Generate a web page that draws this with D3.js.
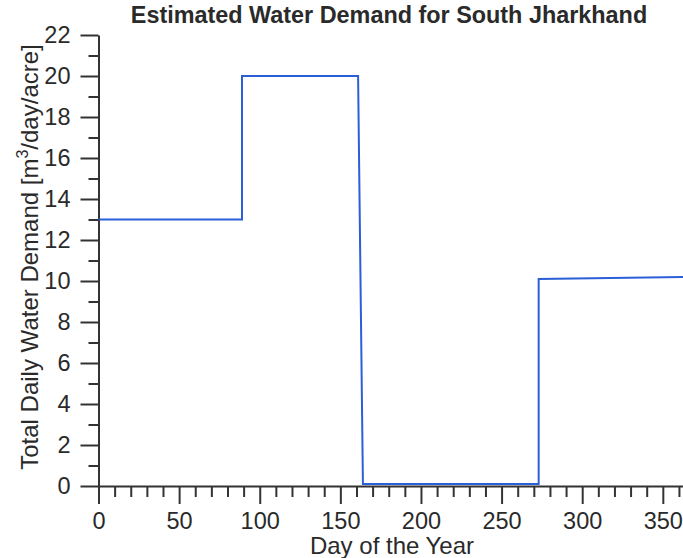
<!DOCTYPE html>
<html>
<head>
<meta charset="utf-8">
<script src="https://cdn.jsdelivr.net/npm/d3@7"></script>
<style>
  html, body { margin: 0; padding: 0; background: #fff; }
  svg { display: block; }
  text { font-family: "Liberation Sans", Arial, Helvetica, sans-serif; fill: #2a2a2a; }
</style>
</head>
<body>
<svg id="chart" width="683" height="558"></svg>
<script>
// Step profile of the estimated daily demand over the year
const days   = [0, 89, 89, 161, 164, 273, 273, 365];
const demand = [13, 13, 20, 20, 0.1, 0.1, 10.1, 10.2];

const xMajorTicks = [0, 50, 100, 150, 200, 250, 300, 350];
const yMajorTicks = [0, 2, 4, 6, 8, 10, 12, 14, 16, 18, 20, 22];

const svg = d3.select("#chart");

const x = d3.scaleLinear().domain([0, 365]).range([98.5, 687]);
const y = d3.scaleLinear().domain([0, 22]).range([486, 35]);

const axisColor = "#333";
const labelSize = 23.5;

// minor ticks every 10 days / every 1 unit
const xMinor = d3.range(0, 366, 10).filter(d => d % 50 !== 0);
const yMinor = d3.range(1, 22, 2);

const gx = svg.append("g").attr("transform", `translate(0,${y(0)})`);
gx.call(d3.axisBottom(x).tickValues(xMinor).tickSize(11).tickSizeOuter(0).tickFormat(""));
gx.select(".domain").remove();
gx.selectAll(".tick line").attr("stroke", axisColor).attr("stroke-width", 2);
const gxMajor = svg.append("g").attr("transform", `translate(0,${y(0)})`);
gxMajor.call(d3.axisBottom(x).tickValues(xMajorTicks).tickSize(18).tickSizeOuter(0).tickPadding(8));
gxMajor.select(".domain").attr("stroke", axisColor).attr("stroke-width", 2);
gxMajor.selectAll(".tick line").attr("stroke", axisColor).attr("stroke-width", 2);
gxMajor.selectAll(".tick text").attr("font-size", labelSize).attr("fill", "#2a2a2a").attr("dy", "0.71em");

const gy = svg.append("g").attr("transform", `translate(${x(0)},0)`);
gy.call(d3.axisLeft(y).tickValues(yMinor).tickSize(10).tickSizeOuter(0).tickFormat(""));
gy.select(".domain").remove();
gy.selectAll(".tick line").attr("stroke", axisColor).attr("stroke-width", 2);
const gyMajor = svg.append("g").attr("transform", `translate(${x(0)},0)`);
gyMajor.call(d3.axisLeft(y).tickValues(yMajorTicks).tickSize(18).tickSizeOuter(0).tickPadding(10));
gyMajor.select(".domain").attr("stroke", axisColor).attr("stroke-width", 2);
gyMajor.selectAll(".tick line").attr("stroke", axisColor).attr("stroke-width", 2);
gyMajor.selectAll(".tick text").attr("font-size", labelSize).attr("fill", "#2a2a2a");

// demand line
const pts = days.map((d, i) => [d, demand[i]]);
svg.append("path")
  .datum(pts)
  .attr("fill", "none")
  .attr("stroke", "#2b5fd8")
  .attr("stroke-width", 2)
  .attr("d", d3.line().x(d => x(d[0])).y(d => y(d[1])));

// title
svg.append("text")
  .attr("x", 389).attr("y", 23)
  .attr("text-anchor", "middle")
  .attr("font-size", 23.4).attr("font-weight", "bold")
  .attr("fill", "#1e1e1e")
  .text("Estimated Water Demand for South Jharkhand");

// axis titles
svg.append("text")
  .attr("x", 392).attr("y", 554)
  .attr("text-anchor", "middle")
  .attr("font-size", 24)
  .text("Day of the Year");

const yl = svg.append("text")
  .attr("transform", "translate(38,257) rotate(-90)")
  .attr("text-anchor", "middle")
  .attr("font-size", 24);
yl.append("tspan").text("Total Daily Water Demand [m");
yl.append("tspan").attr("dy", -10).attr("font-size", 16).text("3");
yl.append("tspan").attr("dy", 10).text("/day/acre]");
</script>
</body>
</html>
